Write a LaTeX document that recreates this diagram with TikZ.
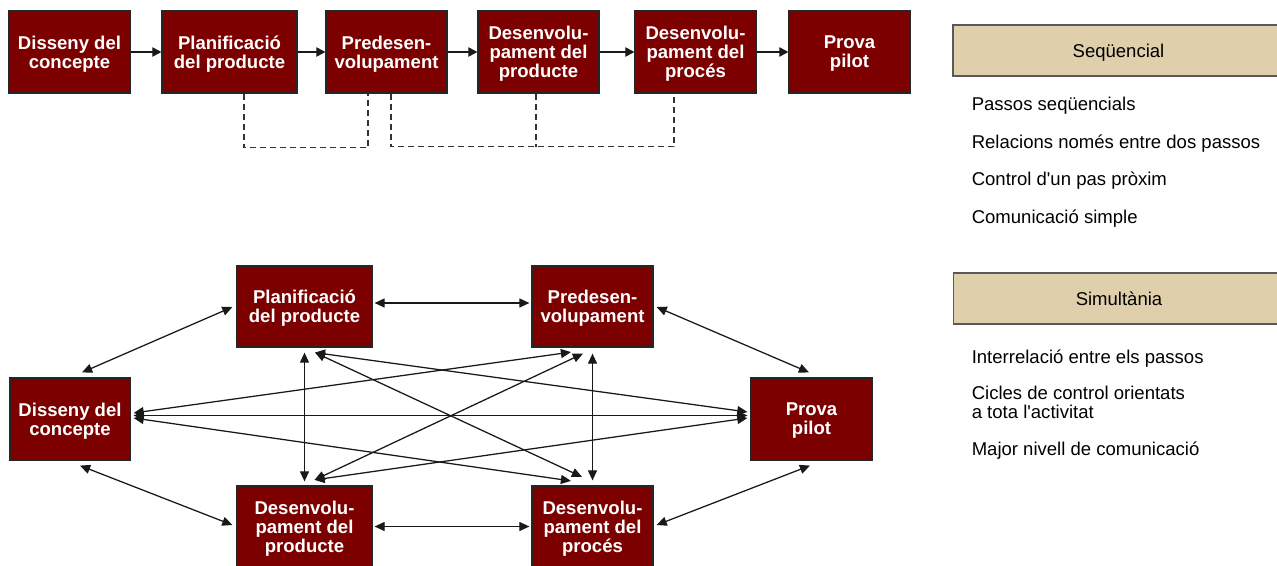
\documentclass[tikz,border=0pt]{standalone}
\usepackage{fontspec}
\setmainfont{Liberation Sans}
\usetikzlibrary{arrows.meta,calc}
\definecolor{stagered}{RGB}{124,0,0}
\definecolor{headtan}{RGB}{224,207,171}
\definecolor{linegray}{RGB}{25,25,25}
\begin{document}
\begin{tikzpicture}[x=0.75pt,y=-0.75pt,
  stage/.style={draw=black!85,line width=0.9pt,fill=stagered,text=white,
    font=\fontsize{13.9}{14.25}\selectfont\bfseries,align=center,
    text depth=-3.4pt,
    minimum width=90.75pt,minimum height=61.5pt,inner sep=0pt},
  widestage/.style={stage,minimum width=101.25pt},
  panelhead/.style={draw=black!65,line width=0.9pt,fill=headtan,
    font=\fontsize{13.9}{14.25}\selectfont,minimum width=248.25pt,
    text depth=0pt,minimum height=38.25pt,inner sep=0pt},
  item/.style={anchor=base west,inner sep=0pt,align=left,
    font=\fontsize{13.9}{14.25}\selectfont},
  seqarrow/.style={draw=linegray,line width=0.95pt,-{Triangle[length=6.8pt,width=7pt]}},
  biarrow/.style={draw=linegray,line width=0.95pt,
    {Triangle[length=7.6pt,width=6.8pt]}-{Triangle[length=7.6pt,width=6.8pt]}},
  dashline/.style={draw=black!80,line width=0.8pt,dash pattern=on 4.5pt off 3pt}]
\useasboundingbox (0,0) rectangle (1277,565);

% sequential chain of stages
\node[stage] (t1) at (69.5,52) {Disseny del\\concepte};
\node[widestage] (t2) at (229.5,52) {Planificació\\del producte};
\node[stage] (t3) at (386.5,52) {Predesen-\\volupament};
\node[stage] (t4) at (538.5,52) {Desenvolu-\\pament del\\producte};
\node[stage] (t5) at (695.5,52) {Desenvolu-\\pament del\\procés};
\node[stage] (t6) at (849.5,52) {Prova\\pilot};

\draw[seqarrow] (t1) -- (t2);
\draw[seqarrow] (t2) -- (t3);
\draw[seqarrow] (t3) -- (t4);
\draw[seqarrow] (t4) -- (t5);
\draw[seqarrow] (t5) -- (t6);

% dashed feedback links below the chain
\draw[dashline] ($(t2.south)+(14.5,0)$) -- ++(0,54) -| ($(t3.south)+(-18.5,0)$);
\draw[dashline] ($(t3.south)+(4.5,0)$) -- ++(0,53) -| ($(t5.south)+(-21.5,0)$);
\draw[dashline] ($(t4.south)+(-2.5,0)$) -- ++(0,53);

% simultaneous network of stages
\node[widestage,minimum height=60.75pt] (plan) at (304.5,306.5) {Planificació\\del producte};
\node[stage,minimum height=60.75pt] (pre) at (592.5,306.5) {Predesen-\\volupament};
\node[stage,minimum width=90pt] (dis) at (70,419) {Disseny del\\concepte};
\node[stage] (prova) at (811.5,419) {Prova\\pilot};
\node[widestage,minimum height=60.75pt] (dprod) at (304.5,526.5) {Desenvolu-\\pament del\\producte};
\node[stage,minimum height=60.75pt] (dproc) at (592.5,526.5) {Desenvolu-\\pament del\\procés};

\draw[biarrow] ($(dis.north)+(12,-5)$) -- ($(plan.west)+(-4,0.5)$);
\draw[biarrow] ($(dis.south)+(10,5)$) -- ($(dprod.west)+(-4,-1.5)$);
\draw[biarrow] ($(plan.east)+(2,-3.5)$) -- ($(pre.west)+(-2,-3.5)$);
\draw[biarrow] ($(dprod.east)+(2,0)$) -- ($(dproc.west)+(-2,0)$);
\draw[biarrow] ($(pre.east)+(3,0.5)$) -- ($(prova.north)+(-2.5,-5)$);
\draw[biarrow] ($(dproc.east)+(3,-1.5)$) -- ($(prova.south)+(-1.5,5)$);
\draw[biarrow] ($(plan.south)+(0,5)$) -- ($(dprod.north)+(0,-4)$);
\draw[biarrow] ($(pre.south)+(0,6)$) -- ($(dproc.north)+(0,-5)$);
\draw[biarrow] ($(dis.east)+(3,-3.5)$) -- ($(prova.west)+(-3,-3.5)$);
\draw[biarrow] ($(dis.east)+(3,-6)$) -- ($(pre.south)+(-21.5,4.5)$);
\draw[biarrow] ($(dis.east)+(3,-1)$) -- ($(dproc.north)+(-21.5,-4.5)$);
\draw[biarrow] ($(prova.west)+(-3,-7)$) -- ($(plan.south)+(10.5,5)$);
\draw[biarrow] ($(prova.west)+(-3,-1)$) -- ($(dprod.north)+(10,-5.5)$);
\draw[biarrow] ($(plan.south)+(10.5,5)$) -- ($(dproc.north)+(-10.5,-8.5)$);
\draw[biarrow] ($(dprod.north)+(10,-5.5)$) -- ($(pre.south)+(-9.5,6)$);

% side panel: characteristics of each approach
\node[panelhead] (seq) at (1118.5,50.5) {Seqüencial};
\node[item] (s1) at (971.5,110.7) {Passos seqüencials};
\node[item] (s2) at (971.5,148.3) {Relacions només entre dos passos};
\node[item] (s3) at (971.5,185.7) {Control d\textquotesingle un pas pròxim};
\node[item] (s4) at (971.5,223.3) {Comunicació simple};

\node[panelhead] (sim) at (1119,298.5) {Simultània};
\node[item] (m1) at (971.5,363.3) {Interrelació entre els passos};
\node[item] (m2) at (971.5,418.7) {Cicles de control orientats\\a tota l\textquotesingle activitat};
\node[item] (m3) at (971.5,455.7) {Major nivell de comunicació};
\end{tikzpicture}
\end{document}
